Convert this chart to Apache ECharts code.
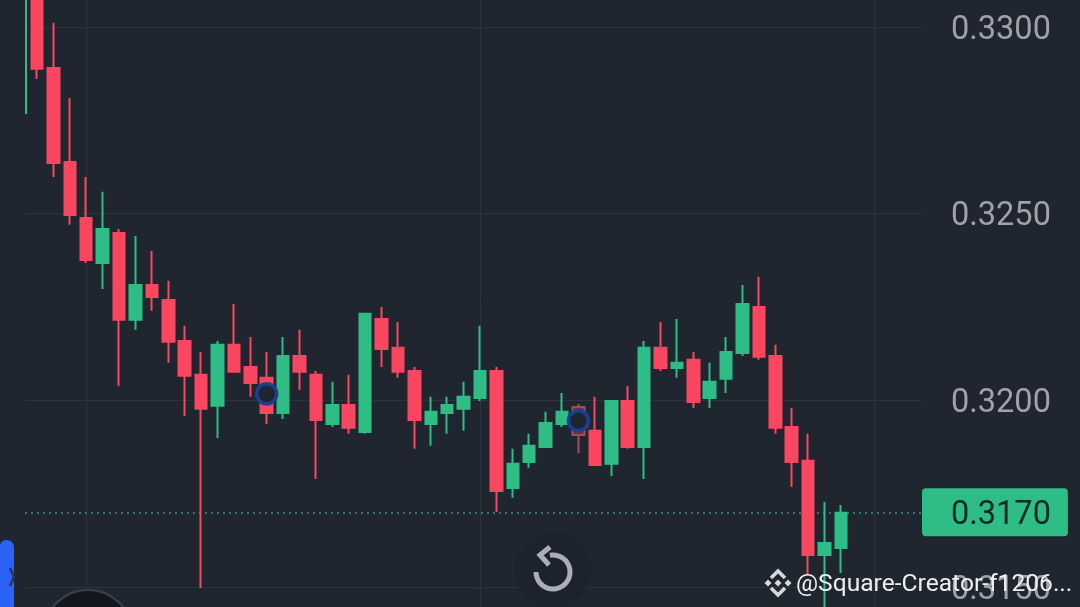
<!DOCTYPE html>
<html>
<head>
<meta charset="utf-8">
<style>html,body{margin:0;padding:0;background:#1f2630;overflow:hidden}#c{width:1080px;height:607px}</style>
<script src="https://cdn.jsdelivr.net/npm/echarts@6/dist/echarts.min.js"></script>
</head>
<body>
<div id="c"></div>
<script>
const opens  = [0.33152,0.32890,0.32639,0.32489,0.32369,0.32449,0.32217,0.32310,0.32270,0.32160,0.32070,0.31987,0.32150,0.32091,0.32062,0.31968,0.32120,0.32070,0.31938,0.31989,0.31917,0.32219,0.32142,0.32080,0.31938,0.31968,0.31979,0.32008,0.32080,0.31767,0.31837,0.31877,0.31938,0.31984,0.31920,0.31832,0.32000,0.31877,0.32142,0.32088,0.32110,0.32008,0.32059,0.32128,0.32251,0.32120,0.31930,0.31840,0.31588,0.31607];
const closes = [0.32888,0.32636,0.32497,0.32377,0.32460,0.32217,0.32310,0.32278,0.32158,0.32067,0.31979,0.32150,0.32078,0.32048,0.31968,0.32120,0.32078,0.31949,0.31989,0.31928,0.32233,0.32139,0.32078,0.31949,0.31971,0.31989,0.32011,0.32080,0.31759,0.31832,0.31880,0.31941,0.31971,0.31909,0.31829,0.32000,0.31877,0.32142,0.32088,0.32102,0.31997,0.32051,0.32131,0.32259,0.32118,0.31928,0.31837,0.31588,0.31620,0.31701];
const lows   = [0.32861,0.32599,0.32471,0.32369,0.32299,0.32040,0.32190,0.32241,0.32102,0.31960,0.31500,0.31901,0.32078,0.32011,0.31938,0.31952,0.32029,0.31791,0.31930,0.31912,0.31912,0.32091,0.32062,0.31872,0.31880,0.31912,0.31920,0.32000,0.31703,0.31741,0.31821,0.31877,0.31930,0.31861,0.31826,0.31799,0.31872,0.31791,0.32080,0.32062,0.31981,0.31981,0.32021,0.32120,0.32110,0.31912,0.31770,0.31535,0.31441,0.31540];
const highs  = [0.33180,0.33011,0.32810,0.32599,0.32559,0.32460,0.32441,0.32401,0.32321,0.32201,0.32131,0.32160,0.32259,0.32171,0.32131,0.32171,0.32190,0.32080,0.32051,0.32070,0.32233,0.32251,0.32211,0.32091,0.32011,0.32011,0.32051,0.32201,0.32091,0.31872,0.31912,0.31971,0.32021,0.31992,0.32011,0.32000,0.32040,0.32160,0.32211,0.32219,0.32131,0.32102,0.32171,0.32310,0.32332,0.32150,0.31981,0.31912,0.31730,0.31722];
const blankSlots = 5;
const partialWick = [[-0.67,0.33100],[-0.67,0.32767]];
const lastPrice = 0.3170;
const tradeMarks = [[14,0.32019],[33,0.31947]];
const dimmedCandle = 33;
const watermark = '@Square-Creator-f1206...';

const BG='#1f2630', GRID='#2d333d', RED='#fb4660', GREEN='#2ebd85', TXT='#9ea3ab';
const cats = opens.map((_,i)=>String(i)).concat(Array.from({length:blankSlots},(_,i)=>String(opens.length+i)));
const ohlc = opens.map((o,i)=>{
  const value=[o,closes[i],lows[i],highs[i]];
  return i===dimmedCandle ? {value,itemStyle:{color0:'#5e3a46',borderColor0:'#a8485a'}} : value;
});
const chart = echarts.init(document.getElementById('c'),null,{renderer:'canvas'});

function diamond(cx,cy,r,fill){return {type:'polygon',z:100,silent:true,shape:{points:[[cx-r,cy],[cx,cy-r],[cx+r,cy],[cx,cy+r]]},style:{fill}};}
function chev(pts,stroke){return {type:'polyline',z:100,silent:true,shape:{points:pts},style:{stroke,fill:null,lineWidth:3.6}};}

chart.setOption({
  animation:false,
  backgroundColor:BG,
  grid:[
    {left:28.8,top:0,width:902.4,height:607},
    {left:25,top:27,width:897,height:561}
  ],
  xAxis:[
    {type:'category',gridIndex:0,data:cats,boundaryGap:true,axisLine:{show:false},axisTick:{show:false},axisLabel:{show:false},
     splitLine:{show:true,alignWithLabel:true,interval:(i)=>(i-3)%24===0,lineStyle:{color:GRID,width:1}}},
    {type:'value',gridIndex:1,min:-0.731,max:53.94,show:false,splitLine:{show:false}}
  ],
  yAxis:[
    {type:'value',gridIndex:0,min:0.31449,max:0.33072,show:false,splitLine:{show:false}},
    {type:'value',gridIndex:1,min:0.3150,max:0.3300,interval:0.005,position:'right',
     axisLine:{show:false},axisTick:{show:false},
     splitLine:{show:true,lineStyle:{color:GRID,width:1}},
     axisLabel:{show:true,inside:false,margin:29,align:'left',formatter:v=>'{a|'+v.toFixed(4)+'}',
       rich:{a:{color:TXT,fontFamily:'Roboto',fontSize:32.5,lineHeight:34,padding:[7,0,0,0]}}}}
  ],
  series:[
    {type:'line',xAxisIndex:1,yAxisIndex:1,data:partialWick,clip:false,symbol:'none',z:3,
     lineStyle:{color:GREEN,width:2},
     markLine:{silent:true,symbol:'none',animation:false,z:2,precision:4,
       lineStyle:{color:'#3f8f78',type:[2,4],width:1.5},
       label:{show:true,position:'end',distance:0,align:'left',verticalAlign:'middle',formatter:()=>'{a|'+lastPrice.toFixed(4)+'}',
         backgroundColor:GREEN,borderRadius:4,padding:[7,17,7,29],
         rich:{a:{color:'#0e2a26',fontFamily:'Roboto',fontSize:32.5,lineHeight:34,padding:[7,0,0,0]}}},
       data:[{yAxis:lastPrice}]}},
    {type:'candlestick',xAxisIndex:0,yAxisIndex:0,data:ohlc,barWidth:12,z:4,
     itemStyle:{color:GREEN,color0:RED,borderColor:GREEN,borderColor0:RED,borderWidth:2}},
    {type:'scatter',xAxisIndex:0,yAxisIndex:0,data:tradeMarks,symbol:'circle',symbolSize:20,z:5,
     itemStyle:{color:BG,borderColor:'#1c3f93',borderWidth:3.5,opacity:1}}
  ],
  graphic:[
    {type:'rect',z:90,silent:true,shape:{x:0,y:540,width:14,height:80,r:[6,7,0,0]},style:{fill:'#2962f5'}},
    {type:'polyline',z:91,silent:true,shape:{points:[[10,568],[14,577],[10,586]]},style:{stroke:'#26365f',fill:null,lineWidth:2.5}},
    {type:'circle',z:90,silent:true,shape:{cx:88,cy:634.5,r:44.5},style:{fill:'#12171f',stroke:'#3a4049',lineWidth:2}},
    {type:'circle',z:90,silent:true,shape:{cx:553,cy:570,r:38},style:{fill:'#1d232c'}},
    {type:'arc',z:91,silent:true,shape:{cx:553,cy:572,r:17,startAngle:-1.75,endAngle:Math.PI,clockwise:true},style:{stroke:'#a9aeb7',fill:null,lineWidth:5}},
    {type:'polyline',z:91,silent:true,shape:{points:[[550,547],[540,555],[549,565]]},style:{stroke:'#a9aeb7',fill:null,lineWidth:5}},
    diamond(778,583,3.5,'#d8d8d8'),
    diamond(768,583,3.5,'#d8d8d8'),
    diamond(788,583,3.5,'#d8d8d8'),
    chev([[771,578],[778,571],[785,578]],'#d8d8d8'),
    chev([[771,588],[778,595],[785,588]],'#d8d8d8'),
    {type:'text',z:100,silent:true,style:{text:watermark,x:796,y:585,verticalAlign:'middle',fill:'#eeeeee',fontFamily:'Roboto',fontSize:24.6}}
  ]
});
</script>
</body>
</html>
